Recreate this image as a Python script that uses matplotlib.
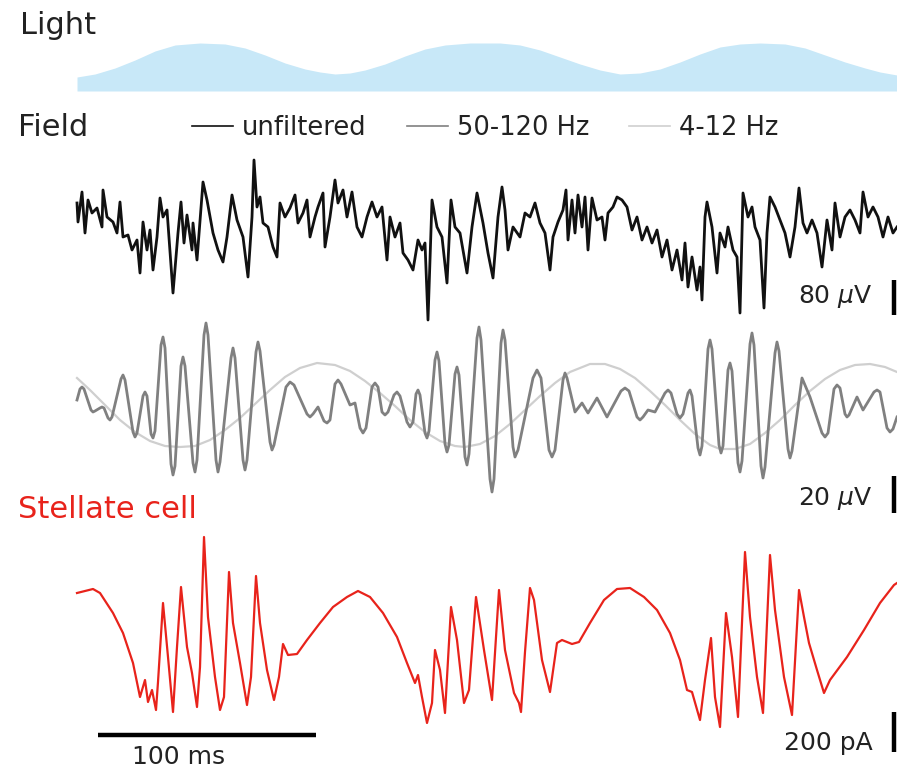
import numpy as np
import matplotlib.pyplot as plt

SAMPLES_PER_MS = 2.18
FIELD_UV_PER_UNIT = 80 / 35
GAMMA_UV_PER_UNIT = 20 / 37
CELL_PA_PER_UNIT = 200 / 40

# light stimulus (a.u.)
light_t = [0, 18, 38, 58, 78, 98, 123, 148, 168, 188, 208, 228, 243, 258, 273, 288, 308, 328,
           348, 368, 393, 423, 443, 463, 483, 503, 523, 543, 563, 583, 603, 623, 643, 663, 683,
           708, 728, 748, 768, 788, 803, 820]
light_v = [14, 17, 23, 31, 40, 46, 48, 47, 43, 36, 28, 22, 19, 17, 18, 21, 27, 35,
           42, 46, 48, 48, 46, 41, 34, 27, 21, 17, 18, 22, 29, 37, 44, 47, 48,
           47, 43, 36, 29, 23, 19, 16]

# unfiltered field
field_t = [0, 1, 5, 8, 11, 15, 20, 25, 26, 30, 36, 40, 43, 46, 51, 55, 60, 63, 66, 70, 73, 76,
           80, 83, 86, 90, 96, 101, 104, 107, 110, 115, 116, 120, 126, 130, 136, 141, 146, 150,
           155, 160, 166, 171, 175, 177, 180, 183, 186, 191, 196, 200, 203, 208, 213, 218, 221,
           226, 230, 233, 238, 241, 246, 248, 253, 258, 261, 266, 270, 275, 280, 285, 290, 295,
           300, 305, 310, 313, 318, 323, 326, 331, 336, 341, 345, 348, 351, 355, 360, 365, 370,
           374, 378, 383, 390, 395, 400, 406, 411, 416, 421, 425, 428, 431, 436, 443, 448, 453,
           458, 463, 468, 473, 476, 481, 486, 489, 491, 495, 498, 501, 505, 508, 511, 515, 520,
           525, 528, 531, 536, 540, 545, 550, 555, 560, 565, 570, 575, 580, 585, 590, 595, 600,
           605, 608, 611, 615, 620, 623, 625, 628, 630, 635, 640, 643, 648, 651, 656, 660, 663,
           666, 671, 675, 678, 683, 687, 690, 693, 698, 703, 708, 713, 718, 722, 726, 730, 735,
           740, 745, 750, 755, 758, 763, 768, 773, 778, 783, 786, 791, 796, 801, 806, 811, 816, 820]
field_v = [27, 8, 38, -3, 30, 17, 22, 3, 40, 13, 8, -3, 28, -7, -5, -20, -10, -43, 8, -20, 0, -40,
           -7, 32, 13, 20, -63, -3, 28, -13, 15, -20, 7, -30, 48, 30, -3, -20, -32, -7,
           35, 10, -7, -47, 13, 70, 23, 33, 7, 3, -17, -27, 27, 13, 22, 35, 7,
           17, 30, -7, 13, 23, 37, -17, 13, 50, 27, 40, 13, 38, 3, -7, 13, 28,
           13, 23, -30, 13, -7, 7, -23, -30, -40, -10, -20, -13, -90, 30, 3, -7, -53,
           30, 3, -3, -43, 3, 37, 7, -23, -48, 13, 43, 20, -20, 3, -7, 17, 13,
           27, 7, -3, -40, -7, 8, 20, 40, -10, 30, -3, 35, 3, 33, -20, 32, 10,
           13, -10, 17, 23, 33, 30, 23, 0, 13, -10, 3, -13, 0, -27, -10, -40, -20,
           -50, -13, -57, -27, -60, -37, -70, 13, 28, 3, -43, -3, -17, 3, -20, -27, -83,
           37, 13, 23, 3, -10, -78, -3, 33, 23, 10, -3, -27, 3, 42, 7, -3, 10,
           -3, -37, 10, -20, 27, -7, 13, 20, 10, -3, 38, 13, 23, 13, -7, 13, -3, 3]

# 50-120 Hz band
gamma_t = [0, 3, 5, 7, 14, 16, 18, 23, 25, 27, 31, 33, 35, 44, 46, 48, 56, 58, 60, 66, 68, 70,
           74, 76, 78, 84, 86, 88, 94, 96, 98, 104, 106, 108, 116, 118, 120, 127, 129, 131,
           139, 141, 143, 154, 156, 158, 166, 168, 170, 179, 181, 183, 193, 195, 197, 209, 213,
           217, 230, 233, 236, 241, 247, 250, 253, 258, 261, 264, 273, 278, 283, 286, 289, 295,
           298, 301, 305, 308, 311, 317, 320, 323, 330, 333, 336, 339, 341, 343, 348, 350, 352,
           358, 360, 362, 368, 370, 372, 378, 380, 382, 388, 390, 392, 400, 402, 404, 413, 415,
           417, 424, 426, 428, 436, 438, 441, 456, 460, 464, 472, 475, 478, 486, 488, 490, 498,
           505, 511, 520, 530, 544, 548, 552, 560, 563, 566, 571, 578, 588, 591, 594, 600, 603,
           606, 611, 613, 615, 621, 623, 625, 631, 633, 635, 642, 644, 646, 651, 653, 655, 661,
           663, 665, 673, 675, 677, 684, 686, 688, 698, 700, 702, 711, 713, 715, 725, 733, 745,
           748, 751, 757, 760, 763, 768, 770, 772, 780, 786, 797, 800, 803, 810, 813, 816, 820]
gamma_v = [0, 11, 13, 11, -10, -12, -11, -8, -7, -8, -18, -20, -17, 21, 25, 20, -32, -37, -33, 4, 8, 4,
           -34, -38, -31, 55, 63, 52, -64, -75, -66, 34, 43, 34, -63, -72, -60, 65, 77, 65,
           -60, -72, -62, 42, 52, 42, -60, -70, -60, 48, 58, 49, -42, -50, -45, 13, 18,
           15, -14, -17, -14, -7, -21, -23, -20, 16, 20, 16, -5, -3, -28, -33, -28, 13,
           17, 13, -12, -15, -12, 5, 8, 4, -22, -27, -22, 6, 10, 5, -33, -38, -31,
           40, 48, 39, -44, -52, -45, 26, 33, 25, -57, -65, -54, 62, 73, 60, -79, -92,
           -79, 57, 70, 60, -47, -57, -50, 22, 30, 22, -50, -57, -50, 20, 27, 22, -12,
           -3, -13, 2, -17, 9, 12, 9, -17, -20, -17, -10, -12, 7, 10, 7, -14, -18,
           -14, 7, 10, 4, -48, -55, -46, 51, 60, 51, -45, -53, -46, 30, 37, 29, -63,
           -72, -61, 56, 67, 55, -66, -78, -67, 47, 58, 49, -49, -58, -51, 22, 3, -33,
           -37, -33, 11, 15, 12, -14, -17, -15, 3, -10, 8, 10, 8, -28, -32, -29, -17]

# 4-12 Hz band
theta_t = [0, 13, 28, 43, 58, 73, 88, 103, 118, 133, 148, 163, 178, 193, 208, 223, 240, 258, 273,
           288, 303, 318, 333, 348, 363, 378, 388, 403, 418, 433, 448, 463, 478, 493, 513, 528,
           543, 558, 573, 588, 603, 618, 633, 643, 658, 673, 688, 703, 718, 733, 748, 763, 778,
           793, 808, 820]
theta_v = [22, 10, -5, -20, -32, -41, -46, -47, -46, -40, -30, -18, -4, 10, 23, 32, 37, 35, 29,
           19, 7, -6, -20, -32, -41, -46, -47, -44, -36, -24, -10, 4, 17, 28, 36, 36,
           31, 22, 9, -5, -20, -34, -45, -49, -49, -44, -33, -20, -5, 9, 21, 30, 35,
           36, 33, 28]

# stellate cell current
cell_t = [0, 16, 23, 36, 46, 56, 63, 68, 71, 75, 79, 81, 86, 91, 96, 100, 104, 110, 115, 120, 123,
          127, 131, 138, 143, 147, 152, 156, 163, 170, 174, 179, 183, 190, 197, 202, 206, 211,
          220, 230, 243, 256, 270, 281, 293, 306, 320, 330, 338, 341, 345, 350, 355, 358, 363,
          368, 374, 380, 387, 392, 399, 407, 415, 422, 428, 437, 442, 444, 448, 453, 457, 465,
          473, 480, 485, 495, 502, 513, 527, 540, 553, 567, 580, 593, 603, 610, 615, 623, 628,
          634, 638, 643, 649, 655, 661, 668, 673, 680, 686, 693, 698, 707, 715, 722, 727, 732,
          740, 747, 753, 770, 787, 803, 817, 820]
cell_v = [57, 61, 57, 37, 17, -13, -47, -30, -52, -40, -60, -32, 47, -7, -62, 3, 63, 3, -23, -57, -17,
          113, 33, -27, -60, -47, 78, 27, -13, -55, -27, 74, 27, -20, -50, -27, 6, -5,
          -4, 10, 27, 43, 53, 59, 53, 37, 13, -13, -33, -25, -47, -73, -53, 0, -20,
          -63, 43, 10, -53, -40, 53, 0, -50, 60, 0, -43, -53, -62, -2, 62, 50, -10,
          -42, 7, 10, 6, 8, 27, 50, 61, 62, 53, 40, 17, -10, -40, -42, -70, -30,
          12, -47, -77, 37, -7, -67, 98, 33, -27, -63, 95, 40, -27, -65, 60, 33, 7,
          -20, -43, -30, -7, 20, 47, 65, 67]

W, H = 897, 771
fig = plt.figure(figsize=(W / 100, H / 100), dpi=100)


def panel(top, bottom, zero, per_unit):
    ax = fig.add_axes([0, 1 - bottom / H, 1, (bottom - top) / H])
    ax.set_xlim(-77 / SAMPLES_PER_MS, 820 / SAMPLES_PER_MS)
    ax.set_ylim((zero - bottom) * per_unit, (zero - top) * per_unit)
    ax.axis('off')
    return ax


def ms(samples):
    return np.array(samples) / SAMPLES_PER_MS


text_kw = dict(color='#222222')
bar_kw = dict(color='black', lw=3.2, solid_capstyle='butt', clip_on=False)
bar_ms = 374.8

# light
ax_l = panel(30, 95, 91, 1)
ax_l.fill_between(ms(light_t), 0, light_v, color='#c8e8f8', lw=0)

# field, unfiltered
ax_f = panel(150, 330, 230, FIELD_UV_PER_UNIT)
l_unf, = ax_f.plot(ms(field_t), np.array(field_v) * FIELD_UV_PER_UNIT,
                   color='#111111', lw=2.0, label='unfiltered')
ax_f.plot([bar_ms, bar_ms], [-195, -115], **bar_kw)
ax_f.text(365, -152, r'80 $\mu$V', ha='right', va='center', fontsize=18, **text_kw)

# field, filtered
ax_g = panel(315, 525, 400, GAMMA_UV_PER_UNIT)
l_th, = ax_g.plot(ms(theta_t), np.array(theta_v) * GAMMA_UV_PER_UNIT,
                  color='#cfcfcf', lw=1.6, label='4-12 Hz')
l_ga, = ax_g.plot(ms(gamma_t), np.array(gamma_v) * GAMMA_UV_PER_UNIT,
                  color='#808080', lw=2.0, label='50-120 Hz', solid_joinstyle='round')
ax_g.plot([bar_ms, bar_ms], [-61, -41], **bar_kw)
ax_g.text(365, -53, r'20 $\mu$V', ha='right', va='center', fontsize=18, **text_kw)

# stellate cell
ax_c = panel(525, 771, 650, CELL_PA_PER_UNIT)
ax_c.plot(ms(cell_t), np.array(cell_v) * CELL_PA_PER_UNIT, color='#e8231b', lw=1.6)
ax_c.plot([bar_ms, bar_ms], [-510, -310], **bar_kw)
ax_c.text(365, -465, '200 pA', ha='right', va='center', fontsize=18, **text_kw)
ax_c.plot([9.6, 109.6], [-425, -425], color='black', lw=3.2, solid_capstyle='butt')
ax_c.text(25.2, -535, '100 ms', ha='left', va='center', fontsize=18, **text_kw)

# labels
fig.text(20 / W, 1 - 25 / H, 'Light', ha='left', va='center', fontsize=22, **text_kw)
fig.text(18 / W, 1 - 128 / H, 'Field', ha='left', va='center', fontsize=22, **text_kw)
fig.text(18 / W, 1 - 510 / H, 'Stellate cell', ha='left', va='center', fontsize=22,
         color='#e8231b')

leg = fig.legend([l_unf, l_ga, l_th], ['unfiltered', '50-120 Hz', '4-12 Hz'], ncol=3,
                 loc='center left', bbox_to_anchor=(192 / W, 1 - 128 / H), frameon=False,
                 fontsize=18.5, handlelength=1.6, handletextpad=0.35, columnspacing=1.55,
                 borderpad=0, borderaxespad=0)
for h in leg.legend_handles:
    h.set_linewidth(1.2)
for t in leg.get_texts():
    t.set_color('#222222')

fig.savefig('out.png', dpi=100)
